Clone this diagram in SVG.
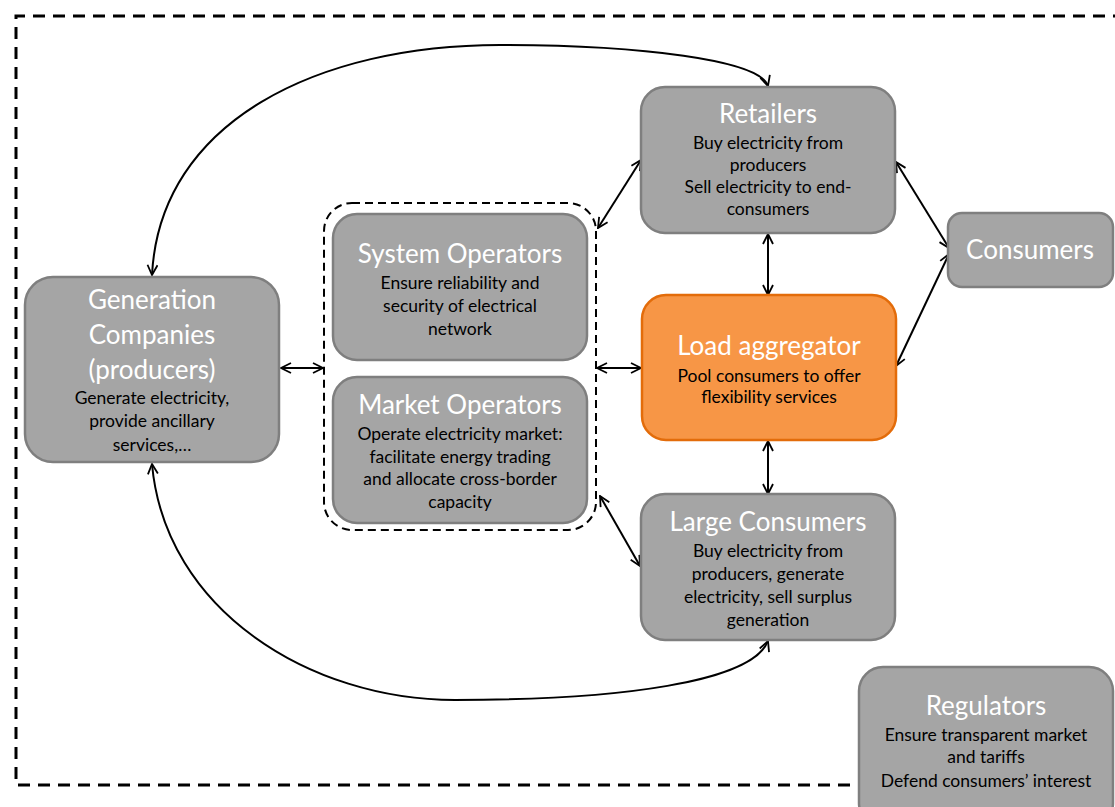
<svg xmlns="http://www.w3.org/2000/svg" width="1115" height="807" viewBox="0 0 1115 807">
<defs>
<style>
.box{fill:#A5A5A5;stroke:#7F7F7F;stroke-width:2.5}
.org{fill:#F79646;stroke:#E36C0A;stroke-width:2.5}
.t{font-family:Lato,"Open Sans",sans-serif;fill:#fff;font-size:26px;text-anchor:middle}
.b{font-family:Lato,"Open Sans",sans-serif;fill:#000;font-size:17.5px;text-anchor:middle}
.c{fill:none;stroke:#000;stroke-width:2}
</style>
<marker id="a" viewBox="0 0 12 12" refX="11" refY="6" markerWidth="12" markerHeight="12" markerUnits="userSpaceOnUse" orient="auto-start-reverse">
<path d="M1,1 L11,6 L1,11" fill="none" stroke="#000" stroke-width="1.8"/>
</marker>
</defs>
<rect width="1115" height="807" fill="#fff"/>
<path d="M1125,16 H16 V785 H870" fill="none" stroke="#000" stroke-width="3" stroke-dasharray="12,8"/>
<rect x="324" y="203" width="272" height="327" rx="28" fill="none" stroke="#000" stroke-width="2" stroke-dasharray="8,5"/>
<g id="connectors">
<path class="c" d="M152,275 C160,120 320,45 500,45 C640,45 760,60 768,86" marker-start="url(#a)" marker-end="url(#a)"/>
<path class="c" d="M152,464 C165,610 310,700 455,700 C620,700 752,682 768,641" marker-start="url(#a)" marker-end="url(#a)"/>
<path class="c" d="M281,368 H323" marker-start="url(#a)" marker-end="url(#a)"/>
<path class="c" d="M597,368 H641" marker-start="url(#a)" marker-end="url(#a)"/>
<path class="c" d="M641,160 L598,228" marker-start="url(#a)" marker-end="url(#a)"/>
<path class="c" d="M768,234 V295" marker-start="url(#a)" marker-end="url(#a)"/>
<path class="c" d="M768,441 V494" marker-start="url(#a)" marker-end="url(#a)"/>
<path class="c" d="M600,496 L640,566" marker-start="url(#a)" marker-end="url(#a)"/>
<path class="c" d="M896,162 L949,248" marker-start="url(#a)" marker-end="url(#a)"/>
<path class="c" d="M949,254 L896,366" marker-start="url(#a)" marker-end="url(#a)"/>
</g>
<g id="retailers">
<rect class="box" x="641" y="87" width="254" height="146" rx="24"/>
<text class="t" x="768" y="123">Retailers</text>
<text class="b" x="768" y="149">Buy electricity from</text>
<text class="b" x="768" y="171">producers</text>
<text class="b" x="768" y="193">Sell electricity to end-</text>
<text class="b" x="768" y="215">consumers</text>
</g>
<g id="consumers">
<rect class="box" x="948" y="213" width="165" height="74" rx="14"/>
<text class="t" x="1030" y="259">Consumers</text>
</g>
<g id="system-operators">
<rect class="box" x="333" y="214" width="254" height="146" rx="24"/>
<text class="t" x="460" y="263">System Operators</text>
<text class="b" x="460" y="289">Ensure reliability and</text>
<text class="b" x="460" y="312">security of electrical</text>
<text class="b" x="460" y="335">network</text>
</g>
<g id="market-operators">
<rect class="box" x="333" y="377" width="254" height="146" rx="24"/>
<text class="t" x="460" y="414">Market Operators</text>
<text class="b" x="460" y="440">Operate electricity market:</text>
<text class="b" x="460" y="463">facilitate energy trading</text>
<text class="b" x="460" y="485">and allocate cross-border</text>
<text class="b" x="460" y="508">capacity</text>
</g>
<g id="generation">
<rect class="box" x="25" y="277" width="254" height="185" rx="28"/>
<text class="t" x="152" y="309">Generation</text>
<text class="t" x="152" y="344">Companies</text>
<text class="t" x="152" y="379">(producers)</text>
<text class="b" x="152" y="404">Generate electricity,</text>
<text class="b" x="152" y="427">provide ancillary</text>
<text class="b" x="152" y="451">services,…</text>
</g>
<g id="load-aggregator">
<rect class="org" x="642" y="295" width="254" height="145" rx="24"/>
<text class="t" x="769" y="355">Load aggregator</text>
<text class="b" x="769" y="382">Pool consumers to offer</text>
<text class="b" x="769" y="403">flexibility services</text>
</g>
<g id="large-consumers">
<rect class="box" x="641" y="494" width="254" height="146" rx="24"/>
<text class="t" x="768" y="531">Large Consumers</text>
<text class="b" x="768" y="557">Buy electricity from</text>
<text class="b" x="768" y="580">producers, generate</text>
<text class="b" x="768" y="603">electricity, sell surplus</text>
<text class="b" x="768" y="626">generation</text>
</g>
<g id="regulators">
<rect class="box" x="859" y="667" width="254" height="160" rx="24"/>
<text class="t" x="986" y="715">Regulators</text>
<text class="b" x="986" y="741">Ensure transparent market</text>
<text class="b" x="986" y="763">and tariffs</text>
<text class="b" x="986" y="787">Defend consumers’ interest</text>
</g>
</svg>
